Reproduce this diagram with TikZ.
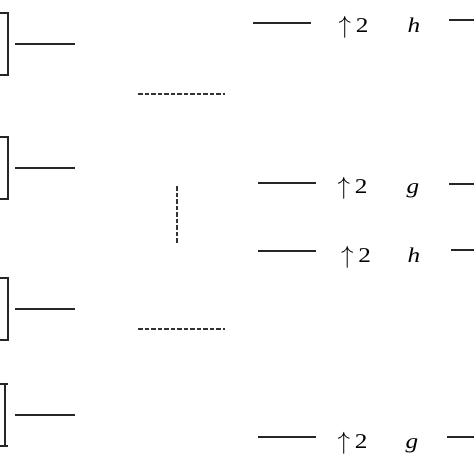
\documentclass[tikz,border=0pt]{standalone}
\usepackage{fontspec}
\setmainfont{Liberation Serif}
\usetikzlibrary{positioning}
\tikzset{
  wire/.style={line width=1.3pt, black!85},
  gap/.style={line width=1.1pt, black!80, dash pattern=on 4.5pt off 2pt},
  lbl/.style={font=\fontsize{21}{25}\selectfont, inner sep=0pt, anchor=base,
    xscale=1.2, transform shape}
}
\newcommand{\upby}{\raisebox{-1pt}{\scalebox{1}[1.2]{$\uparrow$}}\hspace{4pt}2}
\begin{document}
\begin{tikzpicture}[x=1pt,y=-1pt]
    \useasboundingbox (0,0) rectangle (474,474);
    % left boxes (cut at the border)
    \draw[wire] (-5,13) -- (8,13) -- (8,75) -- (-5,75);
    \draw[wire] (-5,137) -- (8,137) -- (8,199) -- (-5,199);
    \draw[wire] (-5,278) -- (8,278) -- (8,340) -- (-5,340);
    \draw[wire] (0,384) -- (8,384) (5,384) -- (5,446) (0,446) -- (8,446);
    \draw[wire] (15,44) -- (75,44);
    \draw[wire] (15,168) -- (75,168);
    \draw[wire] (15,309) -- (75,309);
    \draw[wire] (15,415) -- (75,415);
    % omitted branches
    \draw[gap] (138,94) -- (225,94);
    \draw[gap] (177,186) -- (177,243);
    \draw[gap] (138,329) -- (225,329);
    % up-samplers and filters
    \node[lbl] (upA) at (353.5,32) {\upby};
    \node[lbl] (fA) at (414,32) {\itshape h};
    \node[lbl] (upB) at (352.5,193) {\upby};
    \node[lbl] (fB) at (413,193) {\itshape g};
    \node[lbl] (upC) at (356,262) {\upby};
    \node[lbl] (fC) at (414,262) {\itshape h};
    \node[lbl] (upD) at (352.5,448) {\upby};
    \node[lbl] (fD) at (412,448) {\itshape g};
    \draw[wire] (253,23) -- (311,23);
    \draw[wire] (258,183) -- (316,183);
    \draw[wire] (258,251) -- (316,251);
    \draw[wire] (258,437) -- (316,437);
    \draw[wire] (449,20) -- (480,20);
    \draw[wire] (449,184) -- (480,184);
    \draw[wire] (451,250) -- (480,250);
    \draw[wire] (447,437) -- (480,437);
  \end{tikzpicture}
\end{document}
